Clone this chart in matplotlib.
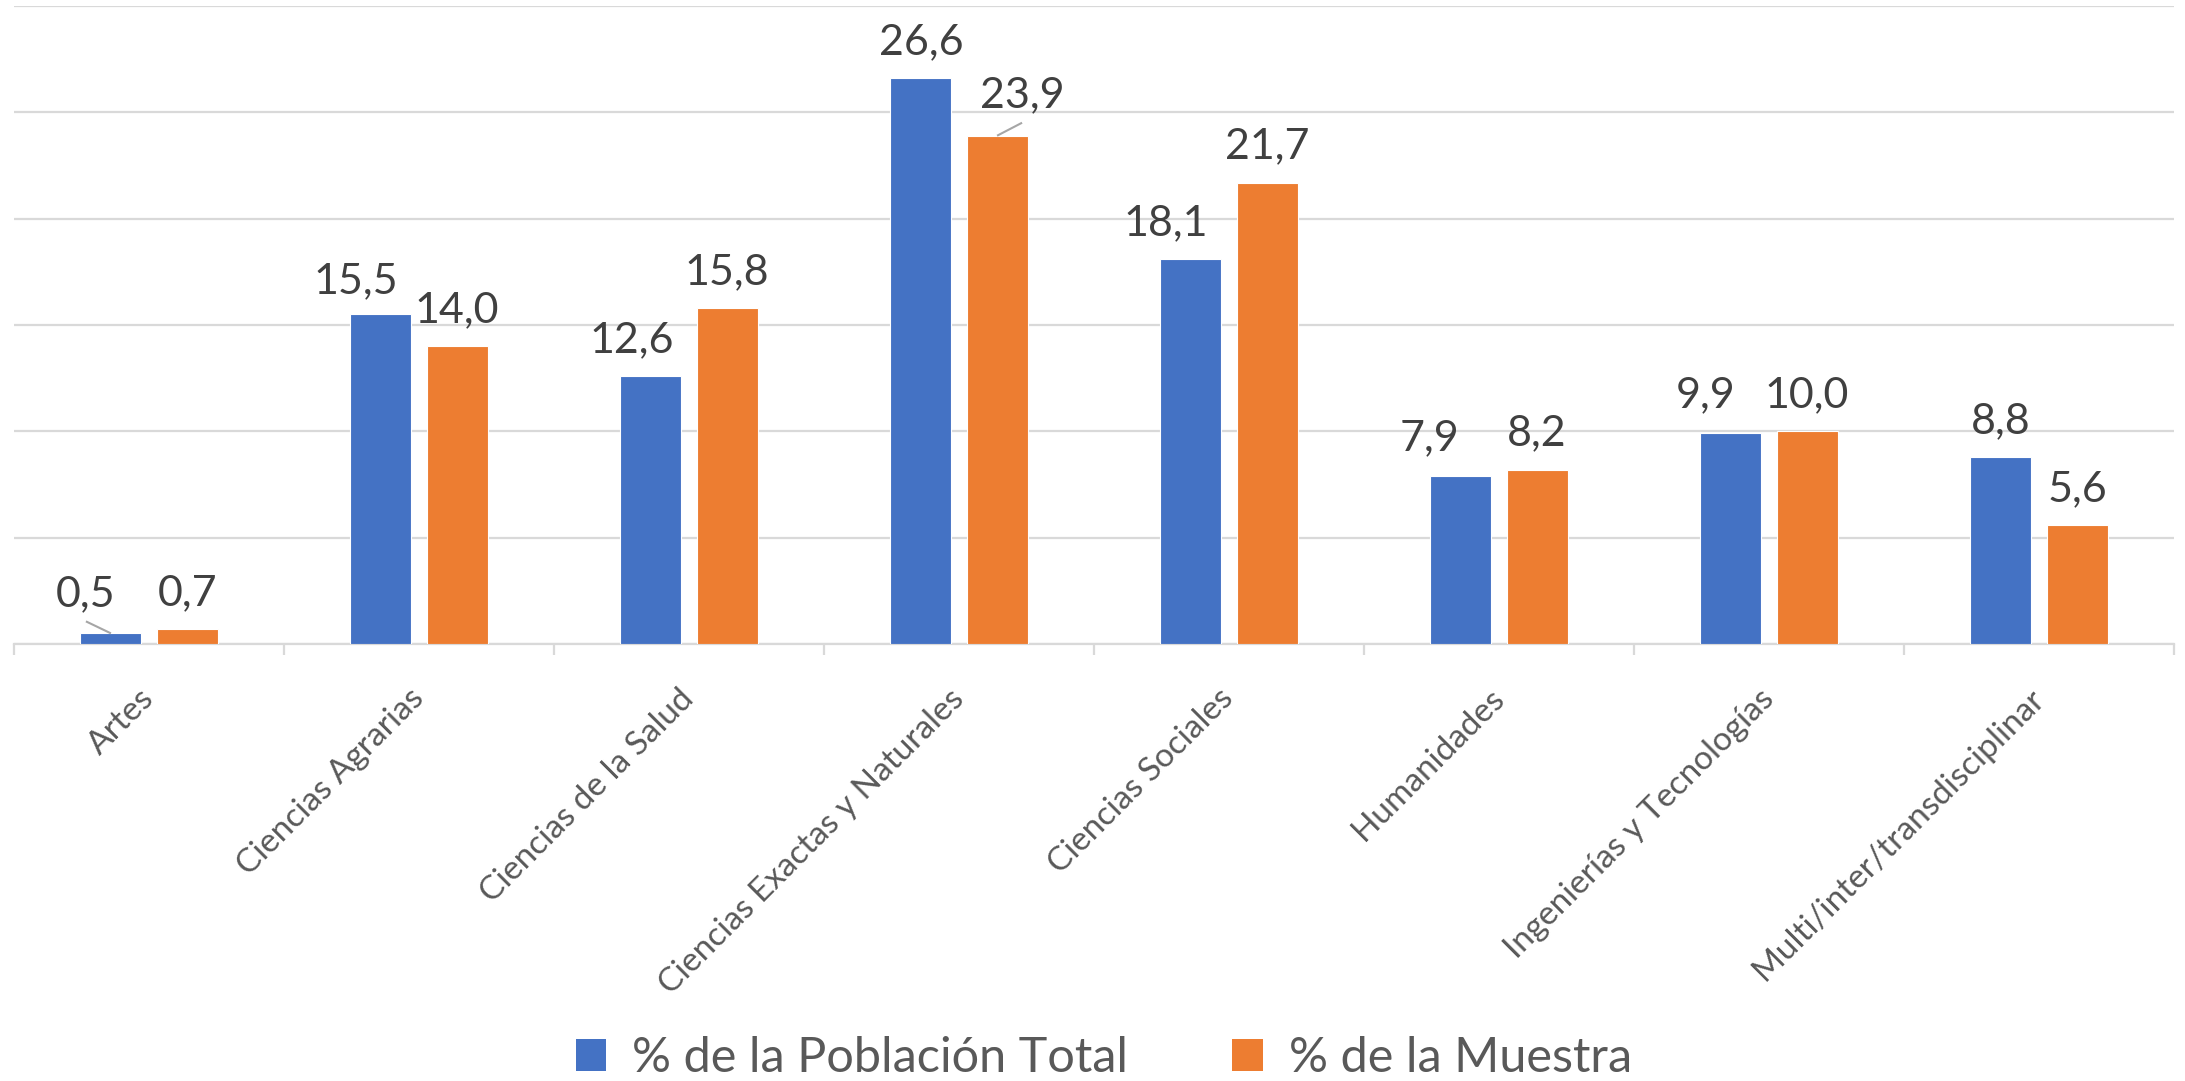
import matplotlib
matplotlib.use("Agg")
import matplotlib.pyplot as plt
from matplotlib.patches import Patch
import numpy as np

categories = ["Artes", "Ciencias Agrarias", "Ciencias de la Salud",
              "Ciencias Exactas y Naturales", "Ciencias Sociales", "Humanidades",
              "Ingenierías y Tecnologías", "Multi/inter/transdisciplinar"]
poblacion = [0.5, 15.5, 12.6, 26.6, 18.1, 7.9, 9.9, 8.8]
muestra = [0.7, 14.0, 15.8, 23.9, 21.7, 8.2, 10.0, 5.6]
series_names = ["% de la Población Total", "% de la Muestra"]
colors = ["#4472C4", "#ED7D31"]

# manual data-label placement (pixel offsets from bar top: dx, dy), as in the original
pob_label_shift = {0: (-25, 27), 1: (-25, 21), 2: (-19, 24), 4: (-25, 24),
                   5: (-31, 26), 6: (-25, 26)}
mue_label_shift = {3: (25, 29)}
pob_leaders = {0: (-25, 12)}
mue_leaders = {3: (25, 13)}

plt.rcParams['font.family'] = ['Lato', 'DejaVu Sans']

W, H = 2185, 1081
dpi = 100
fig = plt.figure(figsize=(W / dpi, H / dpi), dpi=dpi)
ax = fig.add_axes([14 / W, 1 - 644 / H, 2160 / W, 638 / H])

x = np.arange(len(categories))
bw = 0.226
off = 0.141
b1 = ax.bar(x - off, poblacion, bw, color=colors[0], edgecolor='white', linewidth=0.8, zorder=3)
b2 = ax.bar(x + off, muestra, bw, color=colors[1], edgecolor='white', linewidth=0.8, zorder=3)

ax.set_xlim(-0.5, len(categories) - 0.5)
ax.set_ylim(0, 30)
ax.set_yticks(np.arange(0, 31, 5))
ax.yaxis.grid(True, color='#d9d9d9', linewidth=1.6, zorder=0)
ax.tick_params(axis='y', left=False, labelleft=False)
for s in ['left', 'right', 'top']:
    ax.spines[s].set_visible(False)
ax.spines['bottom'].set_color('#d9d9d9')
ax.spines['bottom'].set_linewidth(1.6)

ax.set_xticks(x)
ax.set_xticklabels(categories, rotation=45, ha='right', va='center',
                   rotation_mode='anchor', fontsize=24, color='#595959')
ax.tick_params(axis='x', which='major', length=0, pad=36)
ax.set_xticks(np.arange(-0.5, len(categories), 1), minor=True)
ax.tick_params(axis='x', which='minor', length=8, width=1.6, color='#d9d9d9')

def fmt(v):
    return f"{v:.1f}".replace('.', ',')

label_fs = 31
px = 72.0 / dpi

def add_labels(bars, vals, shifts, leaders):
    for i, (r, v) in enumerate(zip(bars, vals)):
        cx = r.get_x() + r.get_width() / 2
        dx, dy = shifts.get(i, (0, 24))
        if i in leaders:
            lx, ly = leaders[i]
            x0, y0 = ax.transData.transform((cx, v))
            inv = ax.transData.inverted()
            p1 = inv.transform((x0, y0))
            p2 = inv.transform((x0 + lx, y0 + ly))
            ax.plot([p1[0], p2[0]], [p1[1], p2[1]], color='#a6a6a6', lw=1.5,
                    zorder=4, solid_capstyle='butt')
        ax.annotate(fmt(v), (cx, v), xytext=(dx * px, dy * px), textcoords='offset points',
                    ha='center', va='baseline', fontsize=label_fs, color='#404040', zorder=5)

fig.canvas.draw()
add_labels(b1, poblacion, pob_label_shift, pob_leaders)
add_labels(b2, muestra, mue_label_shift, mue_leaders)

handles = [Patch(facecolor=c, edgecolor='none') for c in colors]
leg = fig.legend(handles, series_names, loc='center', bbox_to_anchor=(1104 / W, 1 - 1058 / H),
                 ncol=2, frameon=False, fontsize=35, handlelength=0.62, handleheight=0.62,
                 handletextpad=0.55, columnspacing=2.14, labelcolor='#595959')

fig.savefig("out.png", dpi=dpi, facecolor='white')
